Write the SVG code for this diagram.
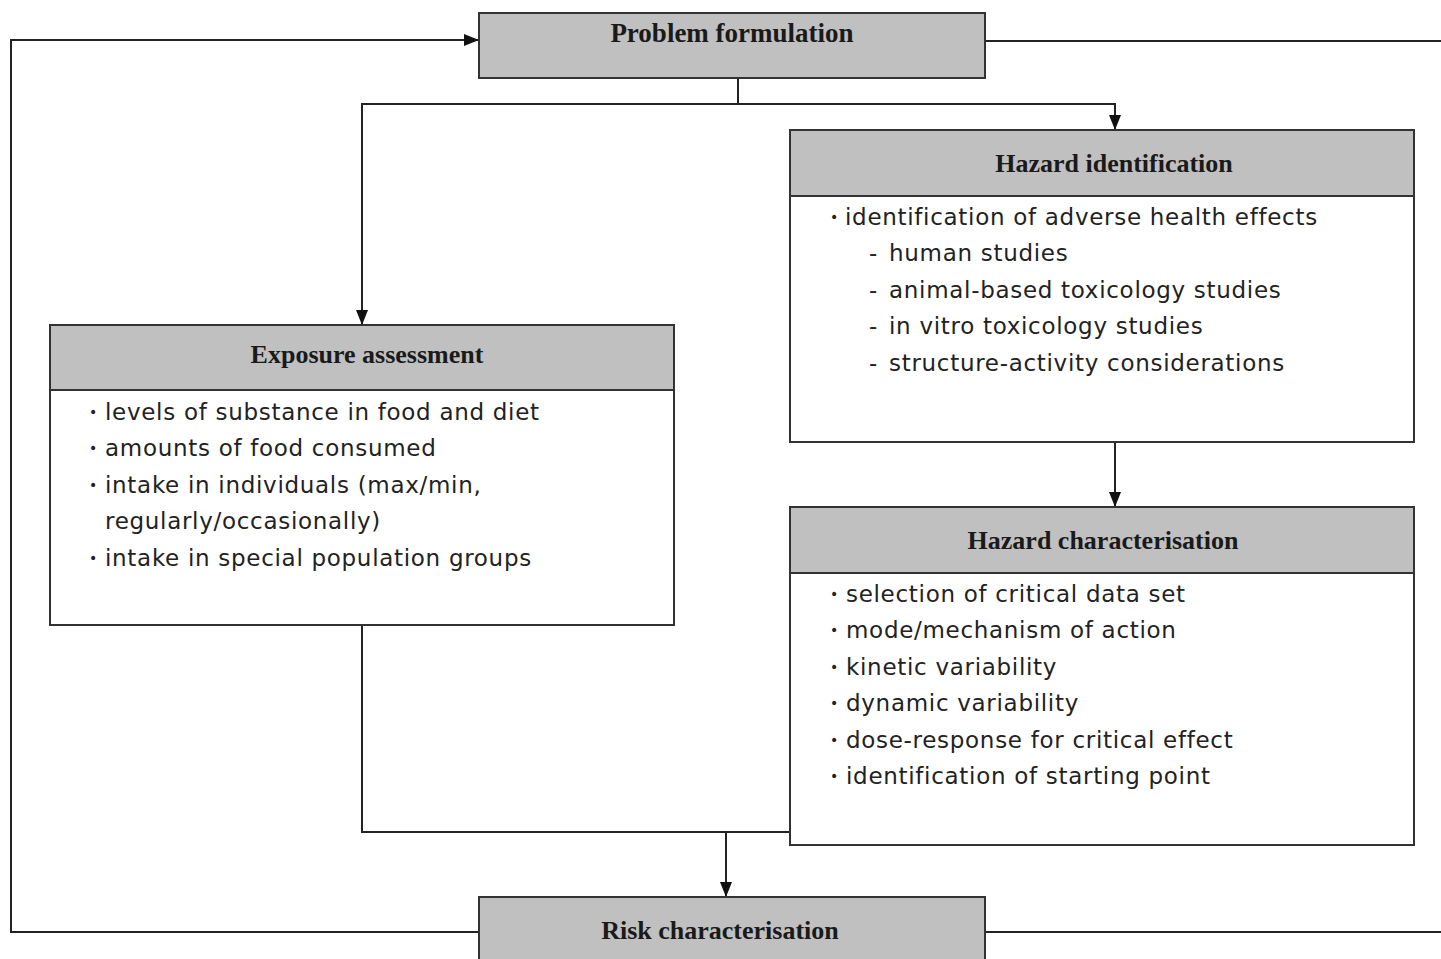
<svg xmlns="http://www.w3.org/2000/svg" width="1441" height="959" viewBox="0 0 1441 959">
<defs>
<marker id="arr" viewBox="0 0 10 8" refX="10" refY="4" markerWidth="15" markerHeight="12" markerUnits="userSpaceOnUse" orient="auto">
<path d="M0,0 L10,4 L0,8 z" fill="#111"/>
</marker>
<style>
.box{fill:#fff;stroke:#333;stroke-width:2}
.hdr{fill:#c0c0c0;stroke:#333;stroke-width:2}
.title{font-family:"Liberation Serif",serif;font-weight:bold;font-size:26px;fill:#1a1a1a;text-anchor:middle}
.body{font-family:"DejaVu Sans","Noto Sans",sans-serif;font-size:23px;letter-spacing:0.7px;fill:#222}
.bul{font-size:14px}
.ln{fill:none;stroke:#222;stroke-width:2}
</style>
</defs>
<rect width="1441" height="959" fill="#fff"/>
<g id="connectors">
<path class="ln" d="M479,932 H11 V40 H479" marker-end="url(#arr)"/>
<path class="ln" d="M985,41 H1441"/>
<path class="ln" d="M985,932 H1441"/>
<path class="ln" d="M738,78 V104"/>
<path class="ln" d="M738,104 H1115 V130" marker-end="url(#arr)"/>
<path class="ln" d="M738,104 H362 V325" marker-end="url(#arr)"/>
<path class="ln" d="M1115,442 V507" marker-end="url(#arr)"/>
<path class="ln" d="M362,625 V832 H790"/>
<path class="ln" d="M726,832 V897" marker-end="url(#arr)"/>
</g>
<g id="problem-formulation">
<rect class="hdr" x="479" y="13" width="506" height="65"/>
<text class="title" x="732" y="42" style="font-size:27px">Problem formulation</text>
</g>
<g id="hazard-identification">
<rect class="box" x="790" y="130" width="624" height="312"/>
<rect class="hdr" x="790" y="130" width="624" height="66"/>
<text class="title" x="1114" y="172">Hazard identification</text>
<text class="body" x="830" y="225"><tspan class="bul" dy="-3">•</tspan><tspan x="845" dy="3">identification of adverse health effects</tspan></text>
<text class="body" x="869" y="261">-<tspan x="889">human studies</tspan></text>
<text class="body" x="869" y="298">-<tspan x="889">animal-based toxicology studies</tspan></text>
<text class="body" x="869" y="334">-<tspan x="889">in vitro toxicology studies</tspan></text>
<text class="body" x="869" y="371">-<tspan x="889">structure-activity considerations</tspan></text>
</g>
<g id="exposure-assessment">
<rect class="box" x="50" y="325" width="624" height="300"/>
<rect class="hdr" x="50" y="325" width="624" height="65"/>
<text class="title" x="367" y="363">Exposure assessment</text>
<text class="body" x="89" y="420"><tspan class="bul" dy="-3">•</tspan><tspan x="105" dy="3">levels of substance in food and diet</tspan></text>
<text class="body" x="89" y="456"><tspan class="bul" dy="-3">•</tspan><tspan x="105" dy="3">amounts of food consumed</tspan></text>
<text class="body" x="89" y="493"><tspan class="bul" dy="-3">•</tspan><tspan x="105" dy="3">intake in individuals (max/min,</tspan></text>
<text class="body" x="105" y="529">regularly/occasionally)</text>
<text class="body" x="89" y="566"><tspan class="bul" dy="-3">•</tspan><tspan x="105" dy="3">intake in special population groups</tspan></text>
</g>
<g id="hazard-characterisation">
<rect class="box" x="790" y="507" width="624" height="338"/>
<rect class="hdr" x="790" y="507" width="624" height="66"/>
<text class="title" x="1103" y="549">Hazard characterisation</text>
<text class="body" x="830" y="602"><tspan class="bul" dy="-3">•</tspan><tspan x="846" dy="3">selection of critical data set</tspan></text>
<text class="body" x="830" y="638"><tspan class="bul" dy="-3">•</tspan><tspan x="846" dy="3">mode/mechanism of action</tspan></text>
<text class="body" x="830" y="675"><tspan class="bul" dy="-3">•</tspan><tspan x="846" dy="3">kinetic variability</tspan></text>
<text class="body" x="830" y="711"><tspan class="bul" dy="-3">•</tspan><tspan x="846" dy="3">dynamic variability</tspan></text>
<text class="body" x="830" y="748"><tspan class="bul" dy="-3">•</tspan><tspan x="846" dy="3">dose-response for critical effect</tspan></text>
<text class="body" x="830" y="784"><tspan class="bul" dy="-3">•</tspan><tspan x="846" dy="3">identification of starting point</tspan></text>
</g>
<g id="risk-characterisation">
<rect class="hdr" x="479" y="897" width="506" height="70"/>
<text class="title" x="720" y="939">Risk characterisation</text>
</g>
</svg>
